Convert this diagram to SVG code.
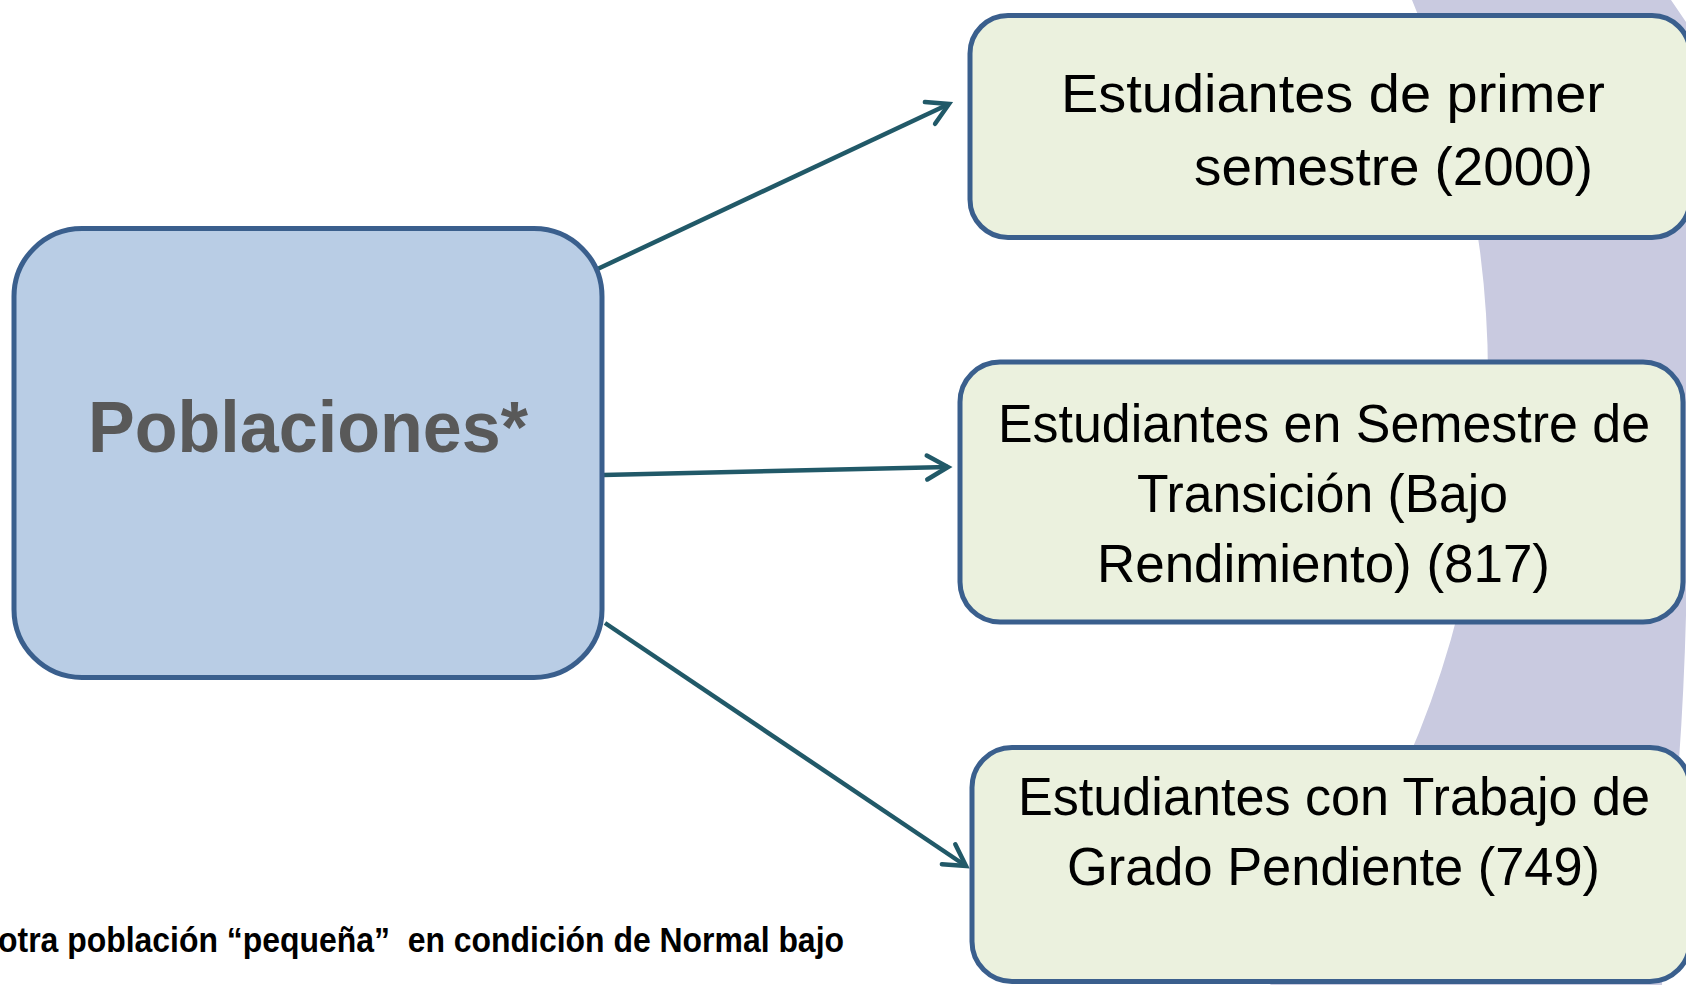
<svg xmlns="http://www.w3.org/2000/svg" width="1686" height="985" viewBox="0 0 1686 985">
<style>
.bg{fill:#C9CAE0}
.main{fill:#B9CDE5;stroke:#3A5F8D;stroke-width:5}
.leaf{fill:#EBF1DE;stroke:#3A5F8D;stroke-width:5}
.lt{font-family:"Liberation Sans",Arial,sans-serif;font-size:54px;fill:#000}
.mt{font-family:"Liberation Sans",Arial,sans-serif;font-size:72px;font-weight:bold;fill:#595959}
.ft{font-family:"Liberation Sans",Arial,sans-serif;font-size:35px;font-weight:bold;fill:#000}
.conn{stroke:#215968;stroke-width:4.5;fill:none;stroke-linecap:butt}
</style>
<defs>
<marker id="arr" markerUnits="userSpaceOnUse" markerWidth="40" markerHeight="40" refX="0" refY="0" viewBox="-30 -20 40 40" orient="auto" overflow="visible">
<path d="M-21,-12 L0,0 L-21,12" fill="none" stroke="#215968" stroke-width="4.5" stroke-linecap="round" stroke-linejoin="miter"/>
</marker>
</defs>
<rect width="1686" height="985" fill="#FFFFFF"/>
<path class="bg" d="M1412,0 A963,963 0 0 1 1270,985 L1662,985 L1679,760 Q1684,690 1686,615 L1686,22 L1671,0 Z"/>
<g id="connectors">
<line class="conn" x1="589" y1="273" x2="949" y2="104" marker-end="url(#arr)"/>
<line class="conn" x1="603" y1="475" x2="948" y2="467" marker-end="url(#arr)"/>
<line class="conn" x1="605" y1="623" x2="966" y2="866" marker-end="url(#arr)"/>
</g>
<g id="poblaciones">
<rect class="main" x="14" y="228.5" width="588" height="449" rx="68" ry="68"/>
<text class="mt" x="88" y="452" textLength="440" lengthAdjust="spacingAndGlyphs">Poblaciones*</text>
</g>
<g id="primer-semestre">
<rect class="leaf" x="970" y="15.5" width="720" height="222" rx="38" ry="38"/>
<text class="lt" x="1061" y="112" textLength="544" lengthAdjust="spacingAndGlyphs">Estudiantes de primer</text>
<text class="lt" x="1194" y="185" textLength="399" lengthAdjust="spacingAndGlyphs">semestre (2000)</text>
</g>
<g id="transicion">
<rect class="leaf" x="960" y="362" width="723" height="260" rx="40" ry="40"/>
<text class="lt" x="998" y="442" textLength="652" lengthAdjust="spacingAndGlyphs">Estudiantes en Semestre de</text>
<text class="lt" x="1137" y="512" textLength="371" lengthAdjust="spacingAndGlyphs">Transición (Bajo</text>
<text class="lt" x="1097" y="582" textLength="453" lengthAdjust="spacingAndGlyphs">Rendimiento) (817)</text>
</g>
<g id="trabajo-grado">
<rect class="leaf" x="972" y="747.5" width="718" height="234" rx="40" ry="40"/>
<text class="lt" x="1018" y="815" textLength="632" lengthAdjust="spacingAndGlyphs">Estudiantes con Trabajo de</text>
<text class="lt" x="1067" y="885" textLength="533" lengthAdjust="spacingAndGlyphs">Grado Pendiente (749)</text>
</g>
<text class="ft" x="-2" y="952" textLength="846" lengthAdjust="spacingAndGlyphs" xml:space="preserve">otra población “pequeña”  en condición de Normal bajo</text>
</svg>
